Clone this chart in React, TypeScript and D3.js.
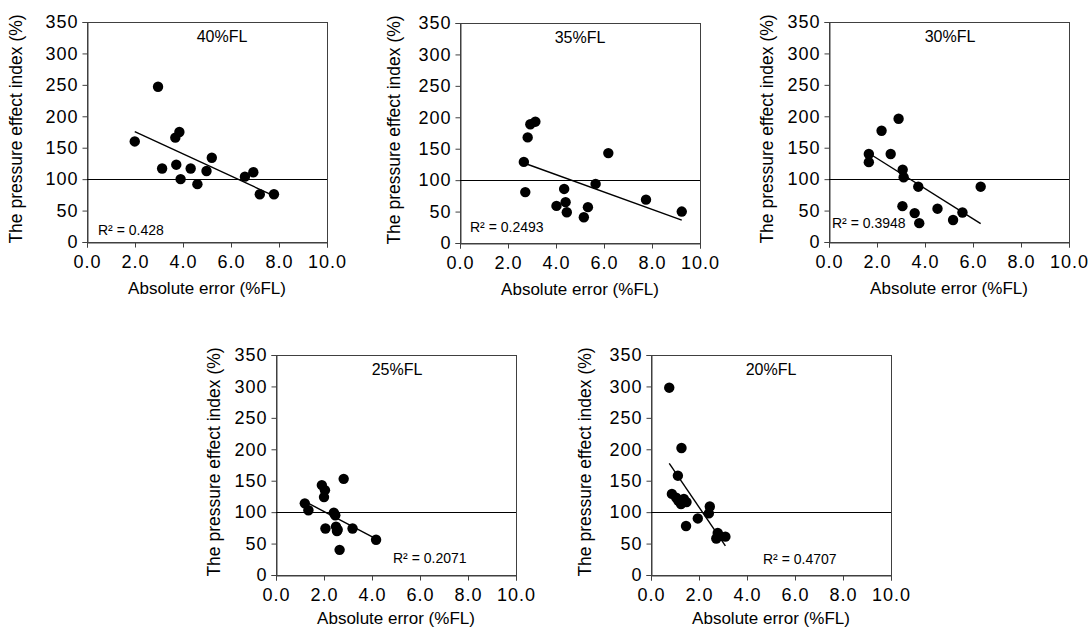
import { useEffect, useRef } from 'react';
import * as d3 from 'd3';

// panel labels and R² text
const panelLabels = ['40%FL', '35%FL', '30%FL', '25%FL', '20%FL'];
const r2Labels = ['R² = 0.428', 'R² = 0.2493', 'R² = 0.3948', 'R² = 0.2071', 'R² = 0.4707'];

// absolute error (%FL) / pressure effect index (%) per panel
const error40 = [1.99, 2.96, 3.13, 3.68, 3.85, 3.72, 3.9, 4.32, 4.6, 4.98, 5.2, 6.58, 6.93, 7.2, 7.79];
const index40 = [160, 247, 117, 166, 175, 123, 100, 117, 92, 113, 134, 104, 111, 76, 76];

const error35 = [2.66, 2.72, 2.82, 2.93, 3.14, 4.02, 4.34, 4.4, 4.45, 5.16, 5.33, 5.65, 6.18, 7.75, 9.24];
const index35 = [129, 81, 168, 189, 193, 59, 86, 65, 49, 41, 57, 94, 143, 69, 50];

const error30 = [1.66, 1.66, 2.19, 2.57, 2.9, 3.07, 3.11, 3.06, 3.57, 3.72, 3.76, 4.52, 5.17, 5.56, 6.32];
const index30 = [140, 127, 177, 140, 196, 115, 103, 57, 46, 88, 30, 53, 35, 47, 88];

const error25 = [1.2, 1.35, 1.91, 2.04, 2.0, 2.06, 2.41, 2.47, 2.5, 2.57, 2.54, 2.82, 2.65, 3.19, 4.17];
const index25 = [114, 103, 143, 135, 124, 74, 99, 95, 77, 72, 70, 153, 40, 74, 56];

const error20 = [0.76, 1.27, 1.12, 0.87, 1.05, 1.14, 1.25, 1.37, 1.48, 1.46, 1.95, 2.41, 2.45, 2.72, 2.78, 2.85, 3.1];
const index20 = [298, 202, 158, 129, 123, 118, 113, 121, 116, 78, 90, 98, 109, 58, 67, 62, 61];

// linear trendlines
const trendSlopes = [-17.6, -13.8, -24, -20, -56];
const trendIntercepts = [210.5, 164, 181, 141, 220];

const xTicks = [0, 2, 4, 6, 8, 10];
const yTicks = [0, 50, 100, 150, 200, 250, 300, 350];
const referenceIndex = 100;

const seriesX = [error40, error35, error30, error25, error20];
const seriesY = [index40, index35, index30, index25, index20];

// where each panel sits on the page
const layout = [
    { left: 87, top: 22, titleX: 222, yTitleX: 16, r2X: 98, r2Y: 235 },
    { left: 460, top: 23, titleX: 580, yTitleX: 394, r2X: 470, r2Y: 232 },
    { left: 829, top: 22, titleX: 950, yTitleX: 767, r2X: 832, r2Y: 228 },
    { left: 276, top: 355, titleX: 397, yTitleX: 214, r2X: 393, r2Y: 563 },
    { left: 651, top: 355, titleX: 771, yTitleX: 585, r2X: 763, r2Y: 564 },
];

const W = 1088;
const H = 628;
const PW = 240;
const PH = 220;
const FONT = '"Liberation Sans", Arial, sans-serif';

function App() {
    const svgRef = useRef<SVGSVGElement | null>(null);

    useEffect(() => {
        if (!svgRef.current) return;
        const svg = d3.select(svgRef.current);
        svg.selectAll('*').remove();

        layout.forEach((p, i) => {
            const x = d3.scaleLinear().domain([0, 10]).range([p.left, p.left + PW]);
            const y = d3.scaleLinear().domain([0, 350]).range([p.top + PH, p.top]);
            const g = svg.append('g');

            // plot box
            g.append('rect')
                .attr('x', p.left + 0.5)
                .attr('y', p.top + 0.5)
                .attr('width', PW)
                .attr('height', PH)
                .attr('fill', 'none')
                .attr('stroke', '#404040')
                .attr('stroke-width', 1);

            // axes
            const yAxis = d3.axisLeft(y).tickValues(yTicks).tickSize(5).tickPadding(4).tickFormat(d3.format('d'));
            const xAxis = d3.axisBottom(x).tickValues(xTicks).tickSize(5).tickPadding(8).tickFormat(d3.format('.1f'));

            const ya = g.append('g').attr('transform', `translate(${p.left + 0.5},0)`).call(yAxis);
            const xa = g.append('g').attr('transform', `translate(0,${p.top + PH + 0.5})`).call(xAxis);
            [ya, xa].forEach((a) => {
                a.select('.domain').attr('stroke', '#404040');
                a.selectAll('.tick line').attr('stroke', '#404040');
                a.selectAll('text')
                    .attr('font-family', FONT)
                    .attr('font-size', 18)
                    .attr('letter-spacing', 1)
                    .attr('fill', '#000');
            });

            // 100% reference line
            g.append('line')
                .attr('x1', p.left)
                .attr('x2', p.left + PW)
                .attr('y1', Math.round(y(referenceIndex)) + 0.5)
                .attr('y2', Math.round(y(referenceIndex)) + 0.5)
                .attr('stroke', '#000')
                .attr('stroke-width', 1.2);

            // points
            const xs = seriesX[i];
            const ys = seriesY[i];
            g.selectAll('circle.pt')
                .data(xs.map((v, j) => [v, ys[j]]))
                .enter()
                .append('circle')
                .attr('cx', (d) => x(d[0]))
                .attr('cy', (d) => y(d[1]))
                .attr('r', 5.2)
                .attr('fill', '#000');

            // trendline over the data range
            const [x0, x1] = d3.extent(xs) as [number, number];
            const trend = [x0, x1].map((v) => [v, trendIntercepts[i] + trendSlopes[i] * v]);
            g.append('path')
                .datum(trend)
                .attr('d', d3.line().x((d) => x(d[0])).y((d) => y(d[1])))
                .attr('fill', 'none')
                .attr('stroke', '#000')
                .attr('stroke-width', 1.4);

            // R² label
            g.append('text')
                .attr('x', p.r2X)
                .attr('y', p.r2Y)
                .attr('font-family', FONT)
                .attr('font-size', 14)
                .attr('fill', '#000')
                .text(r2Labels[i]);

            // panel title
            g.append('text')
                .attr('x', p.titleX)
                .attr('y', p.top + 20)
                .attr('text-anchor', 'middle')
                .attr('font-family', FONT)
                .attr('font-size', 16)
                .attr('fill', '#000')
                .text(panelLabels[i]);

            // axis titles
            g.append('text')
                .attr('x', p.left + PW / 2)
                .attr('y', Math.min(p.top + PH + 52, H - 4))
                .attr('text-anchor', 'middle')
                .attr('font-family', FONT)
                .attr('font-size', 17)
                .attr('fill', '#000')
                .text('Absolute error (%FL)');

            g.append('text')
                .attr('transform', `translate(${p.yTitleX + 6},${p.top + PH / 2 - 3}) rotate(-90)`)
                .attr('text-anchor', 'middle')
                .attr('font-family', FONT)
                .attr('font-size', 17.5)
                .attr('fill', '#000')
                .text('The pressure effect index (%)');
        });

        return () => {
            d3.select(svgRef.current).selectAll('*').remove();
        };
    }, []);

    return (
        <svg
            ref={svgRef}
            width={W}
            height={H}
            style={{ position: 'absolute', left: 0, top: 0, background: '#fff' }}
        ></svg>
    );
}

export default App;
